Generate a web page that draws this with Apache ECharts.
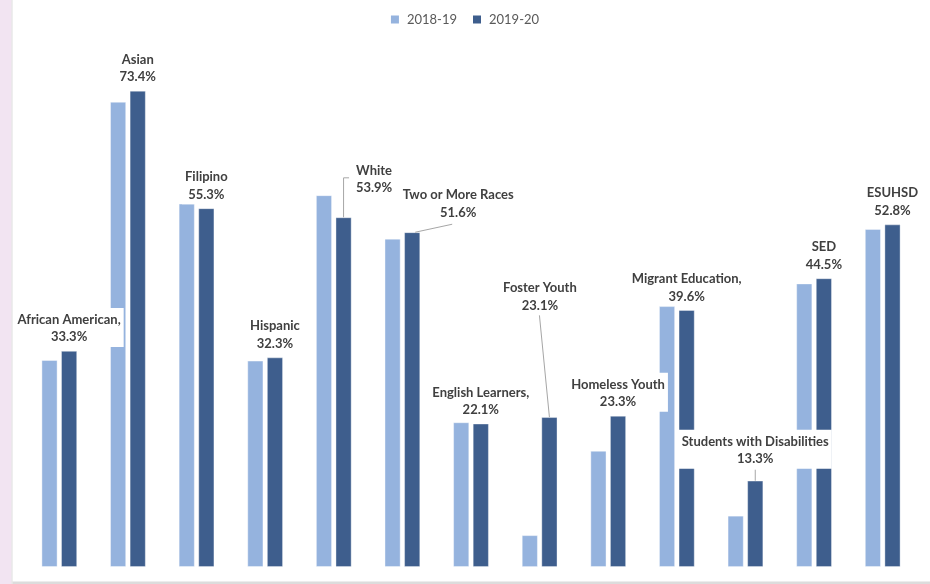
<!DOCTYPE html>
<html><head><meta charset="utf-8">
<script src="https://cdn.jsdelivr.net/npm/echarts@6/dist/echarts.min.js"></script>
<style>html,body{margin:0;padding:0;background:#fff}#c{width:930px;height:584px}</style>
</head><body><div id="c"></div>
<script>
// ---- data ----
const categories = ['African American,', 'Asian', 'Filipino', 'Hispanic', 'White', 'Two or More Races',
  'English Learners,', 'Foster Youth', 'Homeless Youth', 'Migrant Education,', 'Students with Disabilities', 'SED', 'ESUHSD'];
const seriesNames = ['2018-19', '2019-20'];
const values1819 = [31.9, 71.7, 56.0, 31.8, 57.3, 50.6, 22.3, 4.9, 17.9, 40.2, 7.9, 43.7, 52.1];
const values1920 = [33.3, 73.4, 55.3, 32.3, 53.9, 51.6, 22.1, 23.1, 23.3, 39.6, 13.3, 44.5, 52.8];

// ---- style / layout ----
const BAR_W = 16, GAP_PX = 3.6;
const DARK_OFFSET = (BAR_W + GAP_PX) / 2;
const labelPlacement = {
  'White': { dx: 30.5, dy: -19.5, line: [[0, 0], [0, -39.5], [5.5, -39.5]] },
  'Two or More Races': { dx: 46, dy: -10, line: [[3, 0], [40, -8]] },
  'Foster Youth': { dx: -9.5, dy: -102, line: [[0, 0], [-10, -102]] },
  'Students with Disabilities': { dx: 0, dy: -12, line: [[0, 0], [0, -11]] }
};
const DEFAULT_PLACEMENT = { dx: 0, dy: -4, line: null };

function renderLabel(params, api) {
  const i = api.value(0), v = api.value(1);
  const p = api.coord([i, v]);
  const bx = p[0] + DARK_OFFSET, by = p[1];
  const pl = labelPlacement[categories[i]] || DEFAULT_PLACEMENT;
  const children = [];
  if (pl.line) {
    children.push({
      type: 'polyline', z2: 5,
      shape: { points: pl.line.map(q => [bx + q[0], by + q[1]]) },
      style: { stroke: '#a6a6a6', lineWidth: 1, fill: null }
    });
  }
  children.push({
    type: 'text', z2: 10,
    style: {
      text: categories[i] + '\n' + v.toFixed(1) + '%',
      x: bx + pl.dx, y: by + pl.dy,
      align: 'center', verticalAlign: 'bottom',
      font: 'bold 13px Lato', fill: '#404040', lineHeight: 17.5,
      backgroundColor: '#ffffff', padding: [3, 3, 1, 3]
    }
  });
  return { type: 'group', children };
}

const chart = echarts.init(document.getElementById('c'), null, { renderer: 'canvas' });
chart.setOption({
  animation: false,
  backgroundColor: '#ffffff',
  graphic: [
    { type: 'rect', shape: { x: 0, y: 0, width: 11.5, height: 584 }, style: { fill: '#f2e4f2' }, z: -1 },
    { type: 'rect', shape: { x: 11.5, y: 0, width: 1, height: 584 }, style: { fill: '#dedede' }, z: -1 },
    { type: 'rect', shape: { x: 12.5, y: 581.5, width: 918, height: 3 }, style: { fill: '#dcdcdc' }, z: -1 }
  ],
  legend: {
    top: 8, left: 'center',
    itemWidth: 8, itemHeight: 8, itemGap: 16,
    icon: 'rect',
    itemStyle: { borderWidth: 0 },
    textStyle: { color: '#595959', fontSize: 13, fontFamily: 'Lato', padding: [0, 0, 0, 3] },
    data: seriesNames
  },
  grid: { left: 25, right: 13, top: 48, bottom: 17 },
  xAxis: { type: 'category', data: categories, show: false },
  yAxis: { type: 'value', min: 0, max: 80, show: false },
  series: [
    {
      name: seriesNames[0], type: 'bar', data: values1819, barWidth: BAR_W, barGap: (GAP_PX / BAR_W * 100) + '%',
      itemStyle: { color: '#95b3de', borderColor: 'rgba(255,255,255,0.5)', borderWidth: 0.8 }
    },
    {
      name: seriesNames[1], type: 'bar', data: values1920, barWidth: BAR_W,
      itemStyle: { color: '#3e5e8d', borderColor: 'rgba(255,255,255,0.45)', borderWidth: 0.8 }
    },
    {
      name: 'labels', type: 'custom', z: 10, clip: false,
      data: values1920.map((v, i) => [i, v]),
      encode: { x: 0, y: 1 },
      renderItem: renderLabel,
      silent: true
    }
  ]
});
</script></body></html>
